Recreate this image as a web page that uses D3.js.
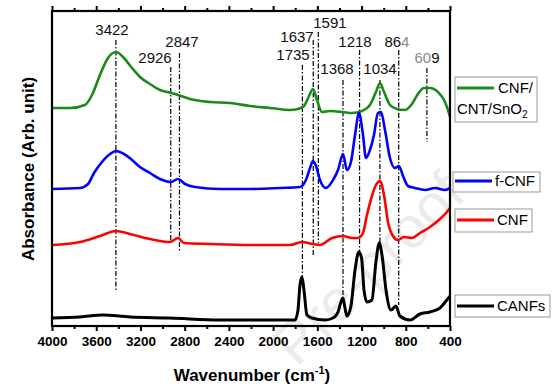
<!DOCTYPE html>
<html><head><meta charset="utf-8">
<script src="https://cdn.jsdelivr.net/npm/d3@7"></script>
<style>
html,body{margin:0;padding:0;background:#fff;}
text{font-family:"Liberation Sans",Arial,sans-serif;}
</style></head>
<body><svg id="c" width="559" height="392"></svg>
<script>
// ---- data (absorbance in arbitrary, offset-stacked units) ----
const seriesNames = ["CNF/CNT/SnO2", "f-CNF", "CNF", "CANFs"];
const seriesColors = ["#1a8a1a", "#0000ff", "#ff0000", "#000000"];

const wnGreen = [4000,3837,3702,3638,3566,3494,3421,3349,3276,3204,3114,3023,2924,2860,2752,2571,2390,2209,2028,1847,1775,1721,1675,1639,1603,1558,1485,1368,1287,1196,1124,1070,1033,997,943,880,807,744,690,636,581,509,454,418,400];
const absGreen = [218,218,221,231,251,268,274,268,258,249,242,236,233,231,227,224,223,220,218,216,217,220,230,237,226,214,215,214,213,215,221,234,243,234,221,217,216,222,232,238,238,234,226,216,209];

const wnBlue = [4000,3747,3674,3620,3548,3475,3421,3349,3276,3204,3114,3023,2924,2860,2797,2707,2480,2209,1938,1757,1703,1666,1639,1612,1576,1522,1458,1413,1368,1332,1296,1259,1223,1187,1160,1124,1088,1052,1024,988,943,898,862,825,780,717,626,536,445,400];
const absBlue = [137,138,142,153,164,172,175,172,166,159,153,147,144,147,142,139,137,137,138,139,146,158,165,160,146,138,146,156,172,156,164,191,213,191,168,176,191,213,214,196,168,158,160,150,140,138,136,138,136,138];

const wnRed = [4000,3747,3566,3421,3295,3114,2933,2860,2806,2571,2209,1847,1739,1648,1576,1467,1368,1287,1233,1187,1151,1106,1070,1033,997,961,916,871,816,744,672,581,491,436,400];
const absRed = [81,84,90,95,92,87,84,88,83,82,81,81,84,82,81,88,90,88,88,93,111,130,141,145,131,104,90,86,89,88,93,99,107,113,118];

const wnBlack = [4000,3747,3539,3295,2933,2480,2028,1802,1775,1757,1739,1721,1694,1648,1531,1458,1413,1386,1368,1350,1332,1296,1259,1225,1200,1178,1151,1106,1070,1040,1015,979,934,889,853,762,672,581,491,436,400];
const absBlack = [8,9,11,9,8,6,6,6,16,41,49,36,11,8,6,8,14,24,28,18,10,20,56,74,68,36,24,26,64,83,71,36,16,20,10,6,12,14,18,25,30];

// peak marker lines
const peakWn     = [3422,2926,2847,1735,1637,1591,1368,1218,1034,864,609];
const peakTop    = [286,259,273,261,286,294,246,276,246,276,258];
const peakBottom = [36,84,74,49,69,83,28,74,83,21,184];

// peak labels
const labelText = ["3422","2926","2847","1735","1637","1591","1368","1218","1034","864","609"];
const labelWn   = [3457,3068,2824,1820,1784,1486,1422,1259,1033,880,608];
const labelAbs  = [291,263,279,266,284,298,252,279,252,279,263];

const majorTicks = [4000,3600,3200,2800,2400,2000,1600,1200,800,400];
const minorTicks = [3800,3400,3000,2600,2200,1800,1400,1000,600];

// ---- drawing ----
const svg = d3.select("#c");
const L = 52, R = 450, T = 11, B = 326;
const x = d3.scaleLinear().domain([4000, 400]).range([L, R]);
const y = d3.scaleLinear().domain([0, 315]).range([B, T]);

// watermark
svg.append("text")
  .attr("transform", "translate(468,197) rotate(-45)")
  .attr("text-anchor", "end")
  .attr("font-size", 58)
  .attr("fill", "#ebebeb")
  .text("Pre-proof");

// peak lines
svg.append("g").selectAll("line").data(peakWn).join("line")
  .attr("x1", d => x(d)).attr("x2", d => x(d))
  .attr("y1", (d, i) => y(peakTop[i])).attr("y2", (d, i) => y(peakBottom[i]))
  .attr("stroke", "#000").attr("stroke-width", 1.2)
  .attr("stroke-dasharray", "5,2,1.5,2");

// curves
const series = [
  {wn: wnGreen, v: absGreen},
  {wn: wnBlue, v: absBlue},
  {wn: wnRed, v: absRed},
  {wn: wnBlack, v: absBlack}
];
const line = d3.line().x(d => x(d[0])).y(d => y(d[1])).curve(d3.curveMonotoneX);
series.forEach((s, i) => {
  svg.append("path")
    .datum(s.wn.map((w, j) => [w, s.v[j]]))
    .attr("d", line)
    .attr("fill", "none")
    .attr("stroke", seriesColors[i])
    .attr("stroke-width", i === 3 ? 3 : 2.6)
    .attr("stroke-linejoin", "round");
});

// peak labels
const lab = svg.append("g").attr("font-size", 15).attr("text-anchor", "middle");
labelText.forEach((t, i) => {
  const tx = lab.append("text").attr("x", x(labelWn[i])).attr("y", y(labelAbs[i])).attr("fill", "#111");
  if (t === "864") {
    tx.append("tspan").text("86");
    tx.append("tspan").attr("fill", "#888").text("4");
  } else if (t === "609") {
    tx.append("tspan").attr("fill", "#888").text("60");
    tx.append("tspan").text("9");
  } else tx.text(t);
});

// axes
const fmt = d3.format("d");
const gB = svg.append("g").attr("transform", `translate(0,${B})`)
  .call(d3.axisBottom(x).tickValues(majorTicks).tickSize(5).tickPadding(5).tickFormat(fmt));
const gBm = svg.append("g").attr("transform", `translate(0,${B})`)
  .call(d3.axisBottom(x).tickValues(minorTicks).tickSize(3).tickFormat(""));
const gT = svg.append("g").attr("transform", `translate(0,${T})`)
  .call(d3.axisTop(x).tickValues(majorTicks).tickSize(5).tickFormat(""));
const gTm = svg.append("g").attr("transform", `translate(0,${T})`)
  .call(d3.axisTop(x).tickValues(minorTicks).tickSize(3).tickFormat(""));
[gB, gBm, gT, gTm].forEach(g => {
  g.select(".domain").remove();
  g.selectAll(".tick line").attr("stroke", "#000").attr("stroke-width", 2);
});
gB.selectAll(".tick text").attr("font-size", 13.5).attr("font-weight", "bold")
  .attr("font-family", "Liberation Sans, Arial, sans-serif").attr("fill", "#000");

// frame
svg.append("rect").attr("x", L).attr("y", T).attr("width", R - L).attr("height", B - T)
  .attr("fill", "none").attr("stroke", "#000").attr("stroke-width", 2.2);

// axis titles
const xt = svg.append("text").attr("x", 252).attr("y", 381).attr("text-anchor", "middle")
  .attr("font-size", 17).attr("font-weight", "bold");
xt.append("tspan").text("Wavenumber (cm");
xt.append("tspan").attr("font-size", 11).attr("dy", -7).text("-1");
xt.append("tspan").attr("dy", 7).text(")");

const yt = svg.append("text")
  .attr("font-size", 17).attr("font-weight", "bold").attr("text-anchor", "start")
  .text("Absorbance (Arb. unit)");
const ylen = yt.node().getComputedTextLength();
yt.attr("transform", `translate(34,${169 + ylen / 2}) rotate(-90)`);

// legend
const legendBoxes = [
  {x: 455, y: 77, w: 82, h: 45, ly: 88},
  {x: 453, y: 172, w: 87, h: 20, ly: 181},
  {x: 455, y: 209, w: 77, h: 23, ly: 220},
  {x: 455, y: 295, w: 95, h: 22, ly: 306}
];
legendBoxes.forEach((b, i) => {
  const g = svg.append("g");
  g.append("rect").attr("x", b.x).attr("y", b.y).attr("width", b.w).attr("height", b.h)
    .attr("fill", "#fff").attr("stroke", "#999").attr("stroke-width", 1);
  g.append("line").attr("x1", b.x + 2).attr("x2", b.x + 39).attr("y1", b.ly).attr("y2", b.ly)
    .attr("stroke", seriesColors[i]).attr("stroke-width", 3);
  if (i === 0) {
    g.append("text").attr("x", b.x + 43).attr("y", b.ly + 5).attr("font-size", 15).text("CNF/");
    const t2 = g.append("text").attr("x", b.x + 2).attr("y", b.ly + 26).attr("font-size", 15);
    t2.append("tspan").text("CNT/SnO");
    t2.append("tspan").attr("font-size", 10).attr("dy", 4).text("2");
  } else {
    g.append("text").attr("x", b.x + 42).attr("y", b.ly + 5).attr("font-size", 15).text(seriesNames[i]);
  }
});
</script></body></html>
